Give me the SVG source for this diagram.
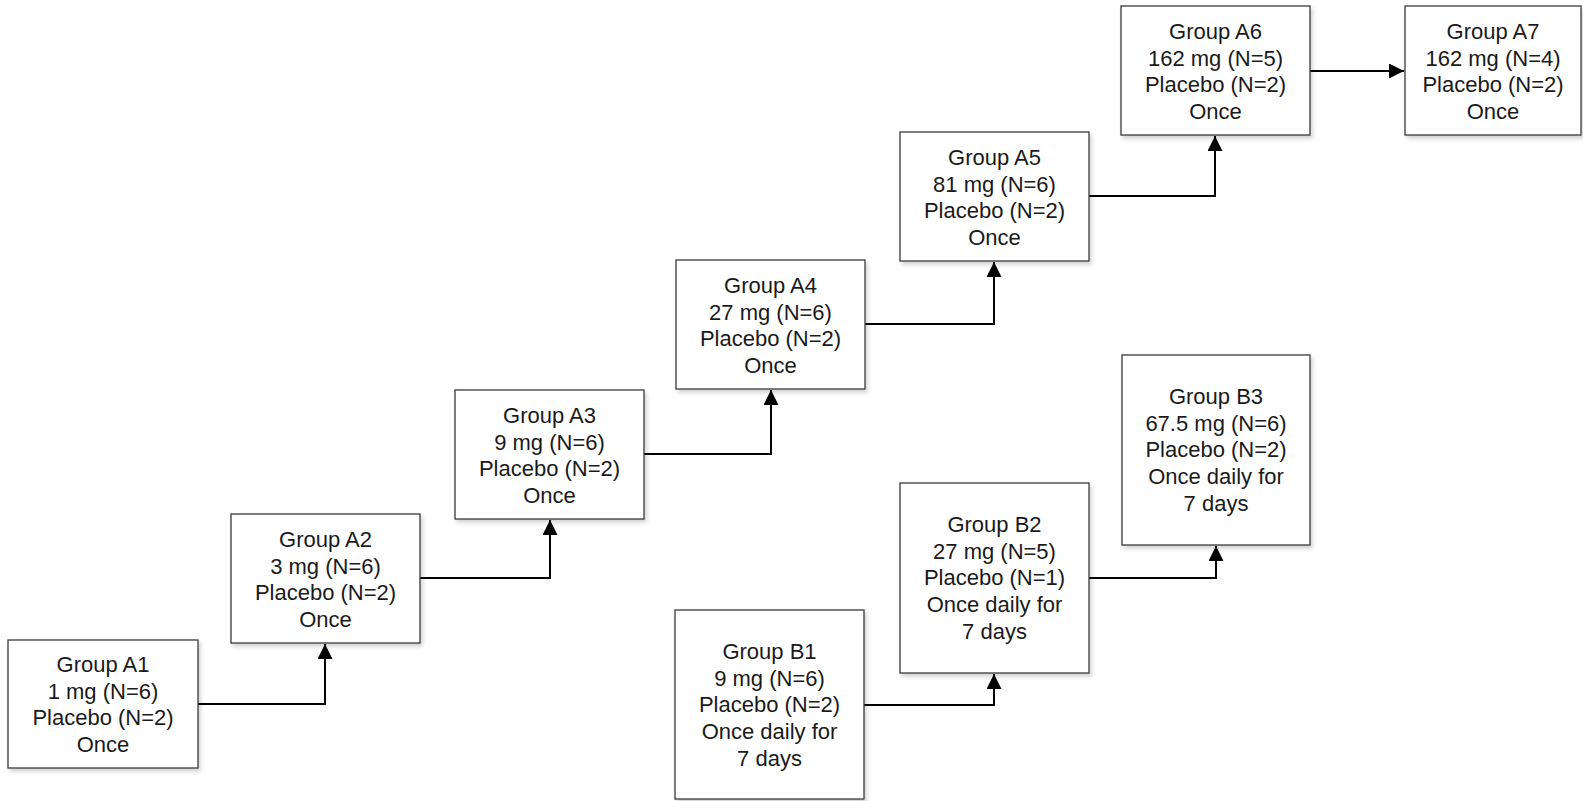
<svg xmlns="http://www.w3.org/2000/svg" width="1583" height="801" viewBox="0 0 1583 801">
<style>
.box{fill:#fff;stroke:#3a3a3a;stroke-width:1.3;filter:url(#sh)}
.t{font-family:"Liberation Sans",Arial,sans-serif;font-size:22px;fill:#1a1a1a;text-anchor:middle}
.c{fill:none;stroke:#000;stroke-width:2;marker-end:url(#ah)}
</style>
<defs>
<filter id="sh" x="-10%" y="-10%" width="130%" height="130%">
<feDropShadow dx="2" dy="3" stdDeviation="2" flood-color="#000" flood-opacity="0.18"/>
</filter>
<marker id="ah" markerUnits="userSpaceOnUse" markerWidth="16" markerHeight="16" refX="15" refY="7.5" orient="auto">
<path d="M0,0 L15,7.5 L0,15 Z" fill="#000"/>
</marker>
</defs>
<rect width="1583" height="801" fill="#fff"/>
<g id="connectors">
<path class="c" d="M198,704 H325 V644"/>
<path class="c" d="M420,578 H550 V520"/>
<path class="c" d="M644,454 H771 V390"/>
<path class="c" d="M865,324 H994 V262"/>
<path class="c" d="M1089,196 H1215 V136"/>
<path class="c" d="M1310,71 H1404"/>
<path class="c" d="M864,705 H994 V674"/>
<path class="c" d="M1089,578 H1216 V546"/>
</g>
<g id="A1"><rect class="box" x="8" y="640" width="190" height="128"/>
<text class="t" x="103" y="672">Group A1</text><text class="t" x="103" y="699">1 mg (N=6)</text><text class="t" x="103" y="725">Placebo (N=2)</text><text class="t" x="103" y="752">Once</text></g>
<g id="A2"><rect class="box" x="231" y="514" width="189" height="129"/>
<text class="t" x="325.5" y="547">Group A2</text><text class="t" x="325.5" y="574">3 mg (N=6)</text><text class="t" x="325.5" y="600">Placebo (N=2)</text><text class="t" x="325.5" y="627">Once</text></g>
<g id="A3"><rect class="box" x="455" y="390" width="189" height="129"/>
<text class="t" x="549.5" y="423">Group A3</text><text class="t" x="549.5" y="450">9 mg (N=6)</text><text class="t" x="549.5" y="476">Placebo (N=2)</text><text class="t" x="549.5" y="503">Once</text></g>
<g id="A4"><rect class="box" x="676" y="260" width="189" height="129"/>
<text class="t" x="770.5" y="293">Group A4</text><text class="t" x="770.5" y="320">27 mg (N=6)</text><text class="t" x="770.5" y="346">Placebo (N=2)</text><text class="t" x="770.5" y="373">Once</text></g>
<g id="A5"><rect class="box" x="900" y="132" width="189" height="129"/>
<text class="t" x="994.5" y="165">Group A5</text><text class="t" x="994.5" y="192">81 mg (N=6)</text><text class="t" x="994.5" y="218">Placebo (N=2)</text><text class="t" x="994.5" y="245">Once</text></g>
<g id="A6"><rect class="box" x="1121" y="6" width="189" height="129"/>
<text class="t" x="1215.5" y="39">Group A6</text><text class="t" x="1215.5" y="66">162 mg (N=5)</text><text class="t" x="1215.5" y="92">Placebo (N=2)</text><text class="t" x="1215.5" y="119">Once</text></g>
<g id="A7"><rect class="box" x="1405" y="6" width="176" height="129"/>
<text class="t" x="1493" y="39">Group A7</text><text class="t" x="1493" y="66">162 mg (N=4)</text><text class="t" x="1493" y="92">Placebo (N=2)</text><text class="t" x="1493" y="119">Once</text></g>
<g id="B1"><rect class="box" x="675" y="610" width="189" height="189"/>
<text class="t" x="769.5" y="659">Group B1</text><text class="t" x="769.5" y="686">9 mg (N=6)</text><text class="t" x="769.5" y="712">Placebo (N=2)</text><text class="t" x="769.5" y="739">Once daily for</text><text class="t" x="769.5" y="766">7 days</text></g>
<g id="B2"><rect class="box" x="900" y="483" width="189" height="190"/>
<text class="t" x="994.5" y="532">Group B2</text><text class="t" x="994.5" y="559">27 mg (N=5)</text><text class="t" x="994.5" y="585">Placebo (N=1)</text><text class="t" x="994.5" y="612">Once daily for</text><text class="t" x="994.5" y="639">7 days</text></g>
<g id="B3"><rect class="box" x="1122" y="355" width="188" height="190"/>
<text class="t" x="1216" y="404">Group B3</text><text class="t" x="1216" y="431">67.5 mg (N=6)</text><text class="t" x="1216" y="457">Placebo (N=2)</text><text class="t" x="1216" y="484">Once daily for</text><text class="t" x="1216" y="511">7 days</text></g>
</svg>
